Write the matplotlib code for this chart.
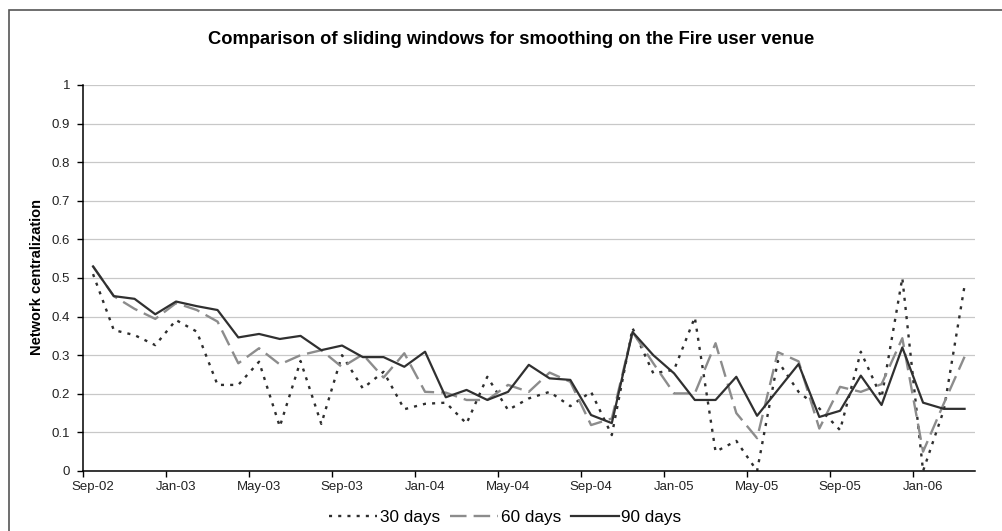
import matplotlib
matplotlib.use("Agg")
import matplotlib.pyplot as plt
from matplotlib.patches import Rectangle
from matplotlib.ticker import FormatStrFormatter

plt.rcParams["font.family"] = ["Liberation Sans", "DejaVu Sans"]

# Monatswerte Sep-02 .. Mar-06 (43 Punkte)
months = ["Sep-02", "Oct-02", "Nov-02", "Dec-02", "Jan-03", "Feb-03", "Mar-03", "Apr-03",
          "May-03", "Jun-03", "Jul-03", "Aug-03", "Sep-03", "Oct-03", "Nov-03", "Dec-03",
          "Jan-04", "Feb-04", "Mar-04", "Apr-04", "May-04", "Jun-04", "Jul-04", "Aug-04",
          "Sep-04", "Oct-04", "Nov-04", "Dec-04", "Jan-05", "Feb-05", "Mar-05", "Apr-05",
          "May-05", "Jun-05", "Jul-05", "Aug-05", "Sep-05", "Oct-05", "Nov-05", "Dec-05",
          "Jan-06", "Feb-06", "Mar-06"]

days30 = [0.51, 0.365, 0.352, 0.326, 0.391, 0.361, 0.223, 0.223, 0.283, 0.115, 0.285,
          0.122, 0.300, 0.214, 0.257, 0.160, 0.174, 0.177, 0.123, 0.244, 0.158, 0.188,
          0.205, 0.168, 0.205, 0.093, 0.370, 0.253, 0.262, 0.398, 0.050, 0.078, 0.000,
          0.285, 0.205, 0.162, 0.106, 0.309, 0.190, 0.500, 0.000, 0.158, 0.480]

days60 = [0.53, 0.453, 0.420, 0.394, 0.435, 0.417, 0.387, 0.279, 0.318, 0.276, 0.300,
          0.313, 0.269, 0.302, 0.242, 0.305, 0.205, 0.203, 0.184, 0.184, 0.223, 0.205,
          0.255, 0.231, 0.119, 0.136, 0.360, 0.279, 0.201, 0.201, 0.331, 0.150, 0.085,
          0.308, 0.284, 0.110, 0.218, 0.205, 0.225, 0.344, 0.050, 0.175, 0.296]

days90 = [0.53, 0.453, 0.446, 0.406, 0.439, 0.427, 0.417, 0.346, 0.355, 0.342, 0.350,
          0.313, 0.325, 0.295, 0.295, 0.270, 0.309, 0.191, 0.210, 0.184, 0.205, 0.275,
          0.240, 0.236, 0.145, 0.124, 0.360, 0.300, 0.253, 0.184, 0.184, 0.244, 0.143,
          0.210, 0.277, 0.140, 0.156, 0.247, 0.171, 0.320, 0.177, 0.161, 0.161]

yticks = [0, 0.1, 0.2, 0.3, 0.4, 0.5, 0.6, 0.7, 0.8, 0.9, 1]

fig = plt.figure(figsize=(10.02, 5.31), dpi=100)
ax = fig.add_axes([0.0825, 0.113, 0.8905, 0.727])

x = list(range(len(months)))
ax.plot(x, days30, color="#2e2e2e", lw=1.7, linestyle=(0, (1.3, 2.6)), label="30 days")
ax.plot(x, days60, color="#8c8c8c", lw=1.7, linestyle=(0, (7, 3)), label="60 days")
ax.plot(x, days90, color="#303030", lw=1.6, label="90 days")

# Achsen
ax.set_xlim(-0.5, 42.5)
ax.set_ylim(0, 1)
ax.set_yticks(yticks)
ax.yaxis.set_major_formatter(FormatStrFormatter("%g"))
ax.yaxis.grid(True, color="#c8c8c8", lw=0.9)
ax.set_axisbelow(True)

# Tickmarks zwischen den Kategorien, Labels in der Mitte
ax.set_xticks([i - 0.5 for i in range(0, len(months), 4)])
ax.set_xticklabels([])
ax.set_xticks(x[::4], minor=True)
ax.set_xticklabels(months[::4], minor=True)
ax.tick_params(axis="x", which="minor", length=0, pad=7, labelsize=9.5, labelcolor="#222222")
ax.tick_params(axis="x", which="major", length=4, width=1, direction="out")
ax.tick_params(axis="y", length=4, width=1, labelsize=9.5, labelcolor="#222222", pad=5)

for s in ["top", "right"]:
    ax.spines[s].set_visible(False)
for s in ["left", "bottom"]:
    ax.spines[s].set_linewidth(1.1)

fig.text(0.51, 0.925, "Comparison of sliding windows for smoothing on the Fire user venue",
         ha="center", va="center", fontsize=13.2, fontweight="bold")
fig.text(0.037, 0.478, "Network centralization", rotation=90, ha="center", va="center",
         fontsize=10.5, fontweight="bold")

fig.legend(loc="center", bbox_to_anchor=(0.5045, 0.025), ncol=3, frameon=False, fontsize=12.3,
           handlelength=2.8, handletextpad=0.15, columnspacing=0.6)

# Rahmen des Diagrammbereichs (rechts und unten abgeschnitten)
fig.patches.append(Rectangle((9 / 1002, -0.1), 1.2, 1.1 - 10 / 531, transform=fig.transFigure,
                             fill=False, edgecolor="#555555", lw=1.2))

fig.savefig("out.png", dpi=100)
